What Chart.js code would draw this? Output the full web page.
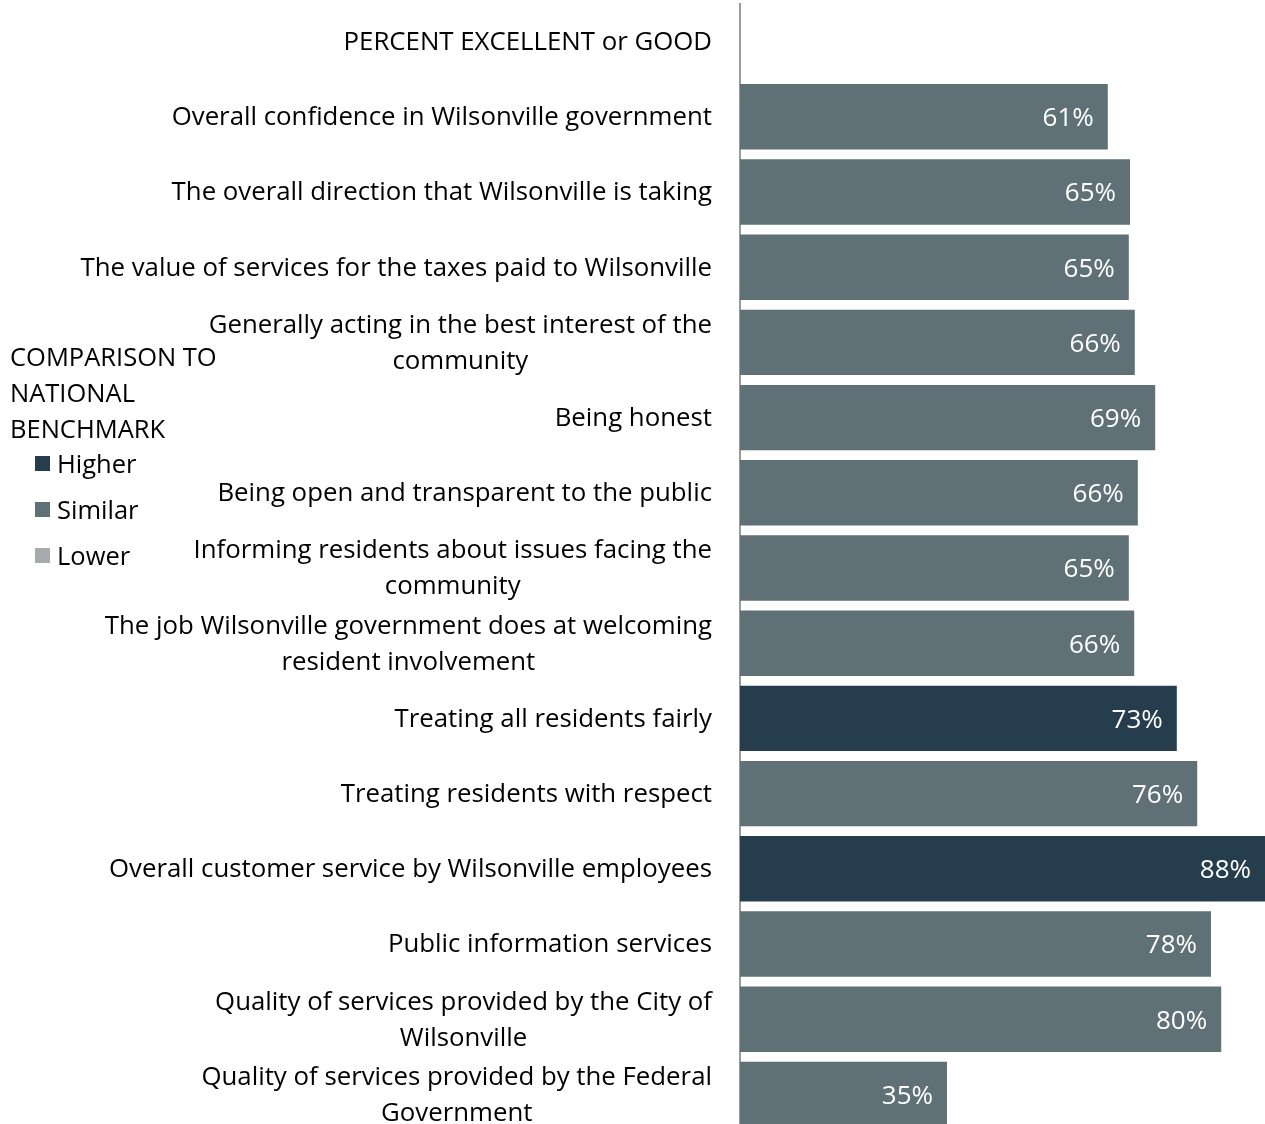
<!DOCTYPE html>
<html>
<head>
<meta charset="utf-8">
<script src="https://cdn.jsdelivr.net/npm/chart.js@4/dist/chart.umd.min.js"></script>
<style>
  html, body { margin: 0; padding: 0; background: #fff; overflow: hidden; }
  #wrap { position: relative; width: 1265px; height: 1132px; }
  #legend { position: absolute; left: 10px; top: 338px; font-family: "Open Sans", sans-serif; font-size: 25.5px; color: #000; }
  #legend .title { line-height: 36px; }
  #items { margin-top: -6px; }
  #legend .item { position: relative; padding-left: 47px; height: 46px; line-height: 46px; }
  #legend .item span.sw { position: absolute; left: 25px; top: 16px; width: 15px; height: 15px; }
</style>
</head>
<body>
<div id="wrap">
  <canvas id="c" width="1265" height="1132"></canvas>
  <div id="legend">
    <div class="title">COMPARISON TO<br>NATIONAL<br>BENCHMARK</div>
    <div id="items"></div>
  </div>
</div>
<script>
const categories = [
  "PERCENT EXCELLENT or GOOD",
  "Overall confidence in Wilsonville government",
  "The overall direction that Wilsonville is taking",
  "The value of services for the taxes paid to Wilsonville",
  ["Generally acting in the best interest of the", "community"],
  "Being honest",
  "Being open and transparent to the public",
  ["Informing residents about issues facing the", "community"],
  ["The job Wilsonville government does at welcoming", "resident involvement"],
  "Treating all residents fairly",
  "Treating residents with respect",
  "Overall customer service by Wilsonville employees",
  "Public information services",
  ["Quality of services provided by the City of", "Wilsonville"],
  ["Quality of services provided by the Federal", "Government"]
];
const values = [null, 61.3, 65.0, 64.8, 65.8, 69.2, 66.3, 64.8, 65.7, 72.8, 76.2, 87.5, 78.5, 80.2, 34.5];
const valueLabels = ["", "61%", "65%", "65%", "66%", "69%", "66%", "65%", "66%", "73%", "76%", "88%", "78%", "80%", "35%"];
const comparison = ["", "Similar", "Similar", "Similar", "Similar", "Similar", "Similar", "Similar", "Similar", "Higher", "Similar", "Higher", "Similar", "Similar", "Similar"];
const legendNames = ["Higher", "Similar", "Lower"];
const legendColors = { Higher: "#263d4d", Similar: "#5f7177", Lower: "#a6abae" };

const FONT = '25.8px "Open Sans", sans-serif';

const items = document.getElementById('items');
legendNames.forEach(n => {
  const d = document.createElement('div');
  d.className = 'item';
  d.innerHTML = '<span class="sw" style="background:' + legendColors[n] + '"></span>' + n;
  items.appendChild(d);
});

const labelPlugin = {
  id: 'valLabels',
  afterDatasetsDraw(chart) {
    const ctx = chart.ctx;
    const meta = chart.getDatasetMeta(0);
    const yScale = chart.scales.y;
    ctx.save();
    ctx.font = '26px "Open Sans", sans-serif';
    ctx.fillStyle = '#ffffff';
    ctx.textAlign = 'right';
    ctx.textBaseline = 'middle';
    meta.data.forEach((bar, i) => {
      if (values[i] == null) return;
      ctx.fillText(valueLabels[i], bar.x - 14, bar.y + 2);
    });
    ctx.font = FONT;
    ctx.fillStyle = '#000000';
    ctx.textAlign = 'center';
    const rightEdge = yScale.right - 28;
    const lh = 36;
    categories.forEach((lab, i) => {
      const lines = Array.isArray(lab) ? lab : [lab];
      const w = Math.max(...lines.map(l => ctx.measureText(l).width));
      const cx = rightEdge - w / 2;
      const cy = yScale.getPixelForValue(i) + 1;
      const y0 = cy - (lines.length - 1) * lh / 2;
      lines.forEach((l, k) => ctx.fillText(l, cx, y0 + k * lh));
    });
    ctx.restore();
  }
};

new Chart(document.getElementById('c'), {
  type: 'bar',
  data: {
    labels: categories,
    datasets: [{
      data: values,
      backgroundColor: comparison.map(c => legendColors[c] || '#ffffff'),
      barPercentage: 0.87,
      categoryPercentage: 1.0,
      borderWidth: 0
    }]
  },
  options: {
    indexAxis: 'y',
    responsive: false,
    animation: false,
    layout: { padding: { top: 4, right: 0, bottom: 0, left: 0 } },
    plugins: { legend: { display: false }, tooltip: { enabled: false } },
    scales: {
      x: { display: false, min: 0, max: 87.5 },
      y: {
        afterFit(scale) { scale.width = 740; },
        grid: { display: false, drawTicks: false },
        border: { display: true, color: '#9a9a9a', width: 2 },
        ticks: { display: false, autoSkip: false }
      }
    }
  },
  plugins: [labelPlugin]
});
</script>
</body>
</html>
